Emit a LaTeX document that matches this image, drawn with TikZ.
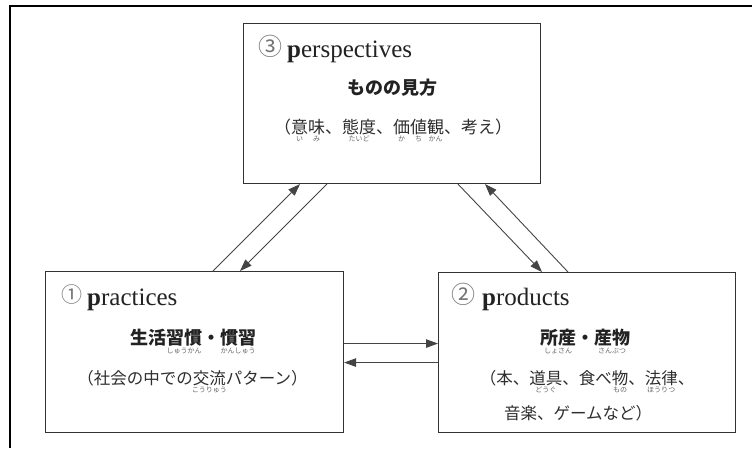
\documentclass[tikz,border=0pt]{standalone}
\usepackage{fontspec}
\setmainfont{Liberation Serif}
\newfontfamily\jp{Noto Sans CJK JP}
\usetikzlibrary{arrows.meta}
\definecolor{ink}{HTML}{222222}
\definecolor{jink}{HTML}{2E2E2E}
\definecolor{boxline}{HTML}{333333}
\definecolor{arrline}{HTML}{444444}
\newcommand\rbfont{\jp\mdseries\fontsize{7}{7.5}\selectfont\color{black!60}}
\newcommand\rb[2]{\setbox0\hbox{#1}\rlap{\raisebox{-8.5pt}[0pt][0pt]{\makebox[\wd0][c]{\rbfont #2}}}\box0}
\tikzset{
  panel/.style={draw=boxline, line width=1.1pt, fill=white, inner sep=0pt, anchor=north west},
  arr/.style={draw=arrline, line width=0.9pt, -{Triangle[length=12pt,width=8.5pt]}},
  head/.style={anchor=base west, inner sep=0pt, text=ink, font=\fontsize{25}{28}\selectfont},
  circnum/.style={anchor=center, inner sep=0pt, text=black!55, font=\jp\fontsize{24}{26}\selectfont},
  jbold/.style={anchor=center, inner sep=0pt, text=ink, font=\jp\bfseries\fontsize{18}{20}\selectfont},
  jtext/.style={anchor=center, inner sep=0pt, text=jink, font=\jp\fontsize{16.5}{18}\selectfont},
}
\begin{document}
\begin{tikzpicture}[x=1pt,y=-1pt]
\useasboundingbox (0,0) rectangle (752,448);
% outer frame (only top and left edges visible)
\coordinate (fbl) at (10,448);
\coordinate (ftl) at (10,6);
\coordinate (ftr) at (752,6);
\draw[line width=2.6pt, black] (fbl) -- (ftl) -- (ftr);

% boxes
\node[panel, minimum width=297pt, minimum height=160pt] (T) at (243,23) {};
\node[panel, minimum width=298pt, minimum height=161pt] (L) at (45,271) {};
\node[panel, minimum width=297pt, minimum height=160pt] (R) at (438,272) {};

% connectors
\draw[arr] ([xshift=168pt]L.north west) -- ([xshift=57pt]T.south west);
\draw[arr] ([xshift=84pt]T.south west) -- ([xshift=195pt]L.north west);
\draw[arr] ([xshift=215pt]T.south west) -- ([xshift=104pt]R.north west);
\draw[arr] ([xshift=130pt]R.north west) -- ([xshift=242pt]T.south west);
\draw[arr] ([yshift=8.5pt]L.east) -- ([yshift=8.5pt]L.east -| R.west);
\draw[arr] ([yshift=-10.5pt]L.east -| R.west) -- ([yshift=-10.5pt]L.east);

% top box text
\node[circnum] (c3) at (270.5,46.5) {③};
\node[head] (hT) at (287,57) {\textbf{p}erspectives};
\node[jbold] (jT1) at (392,88) {ものの見方};
\node[jtext, font=\jp\fontsize{17}{18}\selectfont] (jT2) at (393,127) {（\rb{意}{い}\rb{味}{み}、\rb{態度}{たいど}、\rb{価}{か}\rb{値}{ち}\rb{観}{かん}、考え）};

% left box text
\node[circnum, font=\jp\fontsize{21}{22}\selectfont] (c1) at (72,295) {①};
\node[head] (hL) at (87,305) {\textbf{p}ractices};
\node[jbold] (jL1) at (193,338) {生活\rb{習慣}{しゅうかん}・\rb{慣習}{かんしゅう}};
\node[jtext] (jL2) at (192.5,378) {（社会の中での\rb{交流}{こうりゅう}パターン）};

% right box text
\node[circnum] (c2) at (463.5,294) {②};
\node[head] (hR) at (482,305) {\textbf{p}roducts};
\node[jbold] (jR1) at (585,338) {\rb{所産}{しょさん}・\rb{産物}{さんぶつ}};
\node[jtext] (jR2) at (587,378) {（本、\rb{道具}{どうぐ}、食べ\rb{物}{もの}、\rb{法律}{ほうりつ}、};
\node[jtext] (jR3) at (578,413) {音楽、ゲームなど）};
\end{tikzpicture}
\end{document}
